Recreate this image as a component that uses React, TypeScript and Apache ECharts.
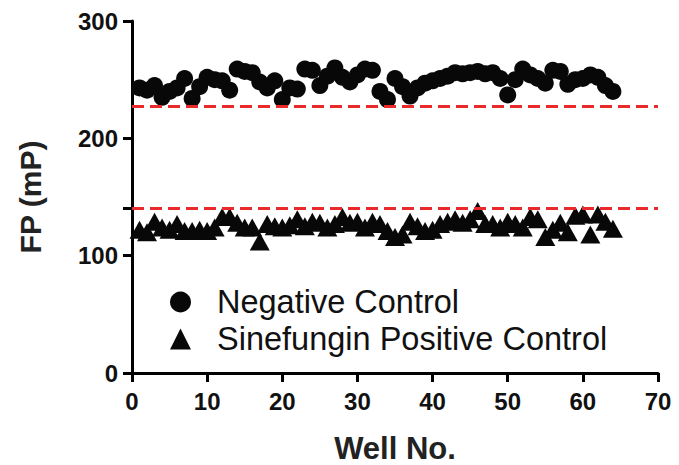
import React, { useEffect, useRef } from "react";
import * as echarts from "echarts";

const wells: number[] = Array.from({ length: 64 }, (_, i) => i + 1);

const negativeControl: number[] = [
  243, 241, 245, 235, 240, 243, 251, 234, 244, 252,
  250, 249, 241, 259, 257, 256, 248, 243, 249, 233,
  243, 242, 259, 258, 245, 253, 260, 252, 248, 254,
  259, 258, 240, 233, 251, 244, 236, 243, 247, 249,
  251, 253, 256, 255, 256, 257, 255, 256, 251, 237,
  250, 259, 254, 251, 247, 258, 257, 246, 250, 251,
  254, 252, 245, 240,
];

const positiveControl: number[] = [
  122, 120, 129, 124, 122, 127, 121, 121, 122, 121,
  124, 133, 133, 128, 124, 124, 112, 127, 125, 124,
  126, 131, 125, 129, 128, 124, 127, 133, 128, 129,
  124, 129, 127, 121, 116, 118, 129, 125, 121, 122,
  127, 129, 131, 128, 131, 138, 127, 127, 124, 129,
  127, 124, 133, 131, 116, 122, 128, 120, 134, 135,
  118, 135, 129, 123,
];

const thresholds: number[] = [227, 140];
const yTicks: number[] = [0, 100, 140, 200, 300];
const yLabels: number[] = [0, 100, 200, 300];

const seriesNames = ["Negative Control", "Sinefungin Positive Control"];

const FONT = "'Liberation Sans', Arial, Helvetica, sans-serif";

export default function App() {
  const ref = useRef<HTMLDivElement>(null);

  useEffect(() => {
    document.body.style.margin = "0";
    if (!ref.current) return;
    const chart = echarts.init(ref.current, null, { renderer: "svg" });
    const axisLine = { show: true, lineStyle: { color: "#000", width: 3 } };
    chart.setOption({
      animation: false,
      backgroundColor: "#fff",
      grid: { left: 132, right: 21, top: 21, bottom: 92, containLabel: false, outerBoundsMode: "none" },
      legend: {
        orient: "vertical",
        left: 165,
        top: 279,
        itemWidth: 21,
        itemHeight: 21,
        itemGap: 1,
        selectedMode: false,
        textStyle: {
          fontFamily: FONT,
          fontSize: 32.5,
          color: "#111",
          lineHeight: 36,
          padding: [0, 0, 0, 21],
        },
        data: [
          { name: seriesNames[0], icon: "circle" },
          { name: seriesNames[1], icon: "triangle" },
        ],
      },
      xAxis: {
        type: "value",
        min: 0,
        max: 70,
        interval: 10,
        name: "Well No.",
        nameLocation: "middle",
        nameGap: 60,
        nameTextStyle: {
          fontFamily: FONT,
          fontSize: 31,
          fontWeight: "bold",
          color: "#222",
          lineHeight: 30,
        },
        axisLine,
        axisTick: { show: true, length: 9, lineStyle: { color: "#000", width: 3 } },
        axisLabel: { fontFamily: FONT, fontSize: 24, fontWeight: "bold", color: "#111", margin: 16 },
        splitLine: { show: false },
      },
      yAxis: {
        type: "value",
        min: 0,
        max: 300,
        interval: 100,
        name: "FP (mP)",
        nameLocation: "middle",
        nameGap: 87,
        nameTextStyle: { fontFamily: FONT, fontSize: 30, fontWeight: "bold", color: "#222" },
        axisLine,
        axisTick: {
          show: true,
          length: 9,
          customValues: yTicks,
          lineStyle: { color: "#000", width: 3 },
        },
        axisLabel: {
          fontFamily: FONT,
          fontSize: 24,
          fontWeight: "bold",
          color: "#111",
          margin: 14,
          customValues: yLabels,
        },
        splitLine: { show: false },
      },
      series: [
        {
          name: seriesNames[0],
          type: "scatter",
          symbol: "circle",
          symbolSize: 17,
          itemStyle: { color: "#080808", opacity: 1 },
          data: wells.map((w, i) => [w, negativeControl[i]]),
          markLine: {
            silent: true,
            symbol: "none",
            label: { show: false },
            lineStyle: { color: "#ea2a2a", width: 3, type: [12, 6], opacity: 1 },
            data: thresholds.map((t) => ({ yAxis: t })),
          },
          z: 3,
        },
        {
          name: seriesNames[1],
          type: "scatter",
          symbol: "triangle",
          symbolSize: [20, 18],
          itemStyle: { color: "#080808", opacity: 1 },
          data: wells.map((w, i) => [w, positiveControl[i]]),
          z: 3,
        },
      ],
    });
    return () => chart.dispose();
  }, []);

  return <div ref={ref} style={{ width: 679, height: 465 }} />;
}
